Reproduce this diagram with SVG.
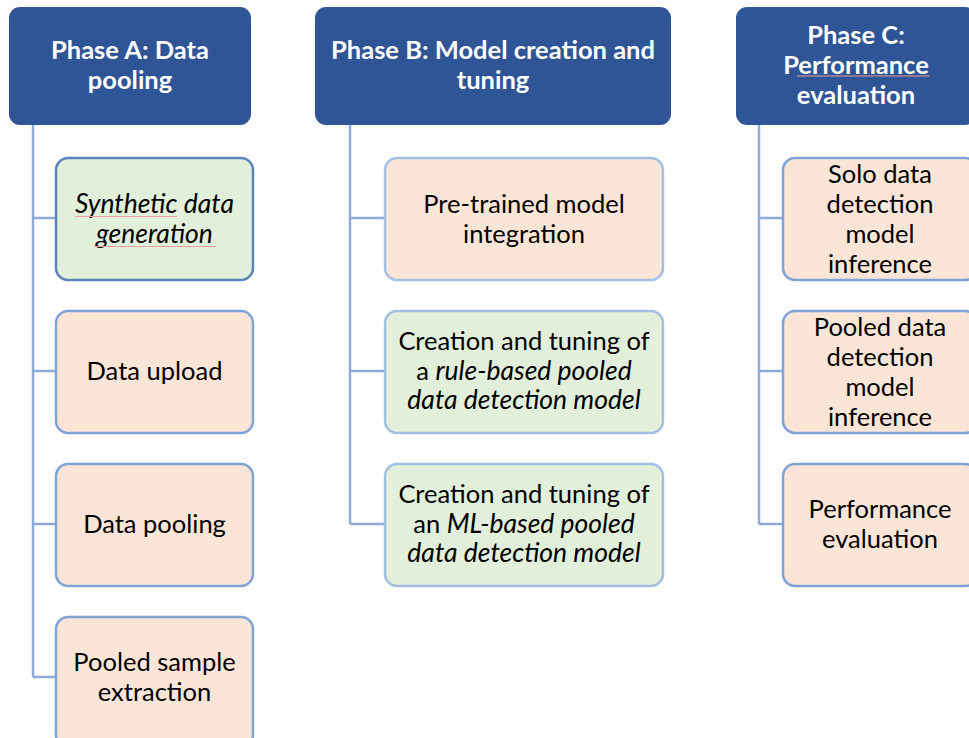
<svg xmlns="http://www.w3.org/2000/svg" width="969" height="738" viewBox="0 0 969 738">
<style>
.hdr{fill:#2F5597;}
.ht{font-family:Lato,"Open Sans","Liberation Sans",sans-serif;font-weight:bold;font-size:25.5px;fill:#FFFFFF;text-anchor:middle;}
.nt{font-family:Lato,"Open Sans","Liberation Sans",sans-serif;font-size:25.5px;fill:#000000;text-anchor:middle;}
.pink{fill:#FBE5D6;}
.green{fill:#E2EFDA;}
.bd1{stroke:#5C84BC;stroke-width:2.5;}
.bd2{stroke:#A3BEE3;stroke-width:2.5;}
.bd3{stroke:#7FA3D4;stroke-width:2.5;}
.conn{stroke:#8EAADB;stroke-width:2.5;fill:none;}
.sq{stroke:#EBA0A0;stroke-width:1.2;fill:none;}
.i{font-style:italic;font-size:26.5px;}
</style>
<rect width="969" height="738" fill="#FFFFFF"/>
<g id="connectors">
<path class="conn" d="M33 125 V677 M33 218 H56 M33 371 H56 M33 524 H56 M33 677 H56"/>
<path class="conn" d="M350 125 V524 M350 218 H385 M350 371 H385 M350 524 H385"/>
<path class="conn" d="M759 125 V524 M759 218 H783 M759 371 H783 M759 524 H783"/>
</g>
<g id="phaseA">
<rect class="hdr" x="9" y="7" width="242" height="118" rx="11"/>
<text class="ht" x="130" y="59">Phase A: Data</text>
<text class="ht" x="130" y="89">pooling</text>
</g>
<g id="phaseB">
<rect class="hdr" x="315" y="7" width="356" height="118" rx="11"/>
<text class="ht" x="493" y="59">Phase B: Model creation and</text>
<text class="ht" x="493" y="89">tuning</text>
</g>
<g id="phaseC">
<rect class="hdr" x="736" y="7" width="240" height="118" rx="11"/>
<text class="ht" x="856" y="44">Phase C:</text>
<text class="ht" x="856" y="74">Performance</text>
<text class="ht" x="856" y="104">evaluation</text>
<path class="sq" d="M797 76 H930"/>
</g>
<g id="a1">
<rect class="green bd1" x="56" y="158" width="197" height="122" rx="12"/>
<text class="nt i" x="154.5" y="213">Synthetic data</text>
<text class="nt i" x="154.5" y="243">generation</text>
<path class="sq" d="M75 216.5 H177 M94 246.5 H216"/>
</g>
<g id="a2">
<rect class="pink bd3" x="56" y="311" width="197" height="122" rx="12"/>
<text class="nt" x="154.5" y="380">Data upload</text>
</g>
<g id="a3">
<rect class="pink bd3" x="56" y="464" width="197" height="122" rx="12"/>
<text class="nt" x="154.5" y="533">Data pooling</text>
</g>
<g id="a4">
<rect class="pink bd3" x="56" y="617" width="197" height="130" rx="12"/>
<text class="nt" x="154.5" y="671">Pooled sample</text>
<text class="nt" x="154.5" y="701">extraction</text>
</g>
<g id="b1">
<rect class="pink bd2" x="385" y="158" width="278" height="122" rx="12"/>
<text class="nt" x="524" y="213">Pre-trained model</text>
<text class="nt" x="524" y="243">integration</text>
</g>
<g id="b2">
<rect class="green bd2" x="385" y="311" width="278" height="122" rx="12"/>
<text class="nt" x="524" y="350">Creation and tuning of</text>
<text class="nt" x="524" y="380">a <tspan class="i">rule-based pooled</tspan></text>
<text class="nt i" x="524" y="409">data detection model</text>
</g>
<g id="b3">
<rect class="green bd2" x="385" y="464" width="278" height="122" rx="12"/>
<text class="nt" x="524" y="503">Creation and tuning of</text>
<text class="nt" x="524" y="533">an <tspan class="i">ML-based pooled</tspan></text>
<text class="nt i" x="524" y="562">data detection model</text>
</g>
<g id="c1">
<rect class="pink bd3" x="783" y="158" width="194" height="122" rx="12"/>
<text class="nt" x="880" y="183">Solo data</text>
<text class="nt" x="880" y="213">detection</text>
<text class="nt" x="880" y="243">model</text>
<text class="nt" x="880" y="273">inference</text>
</g>
<g id="c2">
<rect class="pink bd3" x="783" y="311" width="194" height="122" rx="12"/>
<text class="nt" x="880" y="336">Pooled data</text>
<text class="nt" x="880" y="366">detection</text>
<text class="nt" x="880" y="396">model</text>
<text class="nt" x="880" y="426">inference</text>
</g>
<g id="c3">
<rect class="pink bd3" x="783" y="464" width="194" height="122" rx="12"/>
<text class="nt" x="880" y="518">Performance</text>
<text class="nt" x="880" y="548">evaluation</text>
</g>
</svg>
